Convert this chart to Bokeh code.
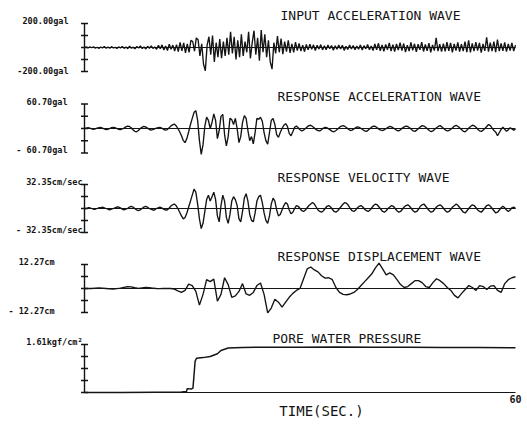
import numpy as np
from bokeh.plotting import figure
from bokeh.models import Range1d, Label
from bokeh.embed import file_html
from bokeh.resources import INLINE

# ---------------- data ----------------
T_END = 60.0

input_acc = [
    0, 3, -4, 5, -2, 6, -5, 2, -7, 4, -3, 8, -6, 3, -5, 7, -4, 2, -8, 5,
    -3, 9, -7, 4, -10, 12, -6, 3, -11, 8, -4, 13, -9, 5, -12, 10, -6, 14, -8, 4,
    -15, 18, -10, 22, -20, 12, -25, 28, -14, 20, -30, 24,
    -35, 42, -28, 38, -45, 30, -40, 60,
    50, -30, 80, 65, -70, 30, -140, -195,
    20, 90, -60, 100, -120, 40, -80, 70,
    -90, 50, -70, 80, -60, 130, -50, 90,
    -100, 60, -80, 110, -70, 50, -40, 130,
    -90, 40, 140, -60, 80, -110, 145, -40,
    110, -80, 60, -120, -180, 40, -50, 95,
    -40, 75, -55, 50, -35, 60, -45, 30,
    -40, 45, -25, 35, -30, 20, -35, 25,
    -20, 28, -15, 22, -25, 18, -12, 24, -20, 15, -18, 20, -10, 16, -22, 14, -15, 20,
    -12, 18, -24, 10, -16, 21, -13, 17, -19, 12, -14, 22, -20, 15, -11, 25, -18, 13,
    -25, 30, -20, 35, -28, 22, -32, 26, -18, 38, -30, 24, -35, 29, -22, 40, -26, 33, -38, 20,
    -30, 42, -24, 31, -36, 27, -20, 45, -33, 25, -28, 36, -40, 22, -26, 80, -30, 28, -35, 33,
    -32, 45, -28, 38, -40, 30, -25, 42, -35, 28, -30, 50, -38, 60, -40, 35, -30, 45, -25, 38,
    -42, 30, -28, 85, -35, 40, -30, 48, -38, 65, -30, 35, -28, 42, -35, 30, -25, 38, -30, 20,
]

resp_acc = [
    0, 1, 2, 1, -1, -2, -1, 1, 2, 3, 1, -1, -3, -2, 0, 2, 3, 2, 0, -2, -3, -1, 1, 4, 6,
    5, 2, -3, -7, -8, -5, 0, 3, 5, 4, 1, -2, -4, -3, -1, 1, 2, 3, 1, -2, -4, -3, 1, 6, 9,
    11, 7, 0, -8, -18, -30, -35, -25, -8, 10,
    25, 40, 44, 20, -30, -64, -40, 5, 28, 20,
    0, 15, 36, 20, -25, -5, 30, 35, -15, -43,
    -20, 25, 22, 10, 25, 0, -35, -20, 15, 32,
    25, -5, -30, -20, -38, -10, 25, 23, 28, 18,
    -10, -30, -39, -10, 20, 25, 10, -15, -22, -10,
    0, 8, 12, 5, -12, -18, -8, 3, 6, 2,
    -3, -6, -4, 0, 4, 7, 8, 5, 1, -3, -5, -6, -3, 1, 3, 2, -1, -4, -7, -8,
    -5, -1, 3, 6, 7, 5, 2, -2, -5, -4, -1, 2, 4, 3, 0, -3, -6, -7, -4, 0,
    4, 6, 5, 2, -2, -4, -5, -3, 0, 3, 5, 4, 1, -2, -5, -6, -3, 1, 4, 6,
    5, 2, -2, -6, -7, -4, 0, 4, 7, 6, 3, -1, -5, -8, -6, -2, 2, 5, 7, 4,
    0, -4, -6, -5, -2, 2, 6, 8, 5, 1, -3, -7, -8, -4, 1, 5, 8, 7, 3, -2,
    -6, -7, -4, 0, 5, 10, 7, 1, -5, -9, -18, -10, -2, 3, -2, -7, -3, 2, -1, -4, -2,
]

resp_vel = [
    0, 0, 1, 1, 0, -1, -1, 0, 1, 1, 2, 1, 0, -1, -2, -1, 0, 1, 2, 2, 1, -1, -2, -1, 0,
    2, 3, 2, 0, -2, -3, -2, 0, 2, 3, 2, 0, -1, -2, -2, 0, 1, 2, 1, -1, -2, -2, 0, 3, 5,
    6, 4, 0, -5, -10, -14, -12, -6, 2, 10,
    18, 26, 22, 6, -14, -27, -20, -4, 12, 18,
    10, 16, 22, 12, -10, -18, 4, 18, 10, -12,
    -20, -8, 10, 16, 12, 4, -14, -18, -4, 14,
    20, 10, -8, -16, -18, -6, 10, 16, 18, 8,
    -6, -16, -20, -10, 6, 14, 10, -2, -10, -8,
    -2, 4, 8, 6, -2, -7, -5, 0, 4, 3,
    0, -3, -4, -2, 1, 4, 6, 8, 6, 2, -2, -4, -5, -3, 0, 3, 4, 2, -1, -4,
    -5, -3, 0, 3, 6, 8, 7, 4, 0, -3, -4, -2, 1, 3, 4, 2, -1, -3, -4, -2,
    1, 4, 6, 5, 2, -1, -4, -5, -3, 0, 2, 4, 3, 0, -3, -5, -4, -1, 2, 4,
    5, 3, 0, -3, -5, -4, -1, 3, 5, 6, 3, 0, -3, -5, -4, -1, 2, 4, 5, 3,
    0, -3, -5, -4, -1, 2, 4, 6, 4, 1, -2, -5, -6, -3, 0, 3, 5, 4, 1, -2,
    -4, -5, -2, 1, 4, 5, 3, 0, -3, -6, -5, -2, 1, 3, 1, -2, -4, -2, 1, 2, 0,
]

resp_disp = [
    0, 0, 0, 0.2, 0.3, 0.2, 0, -0.2, -0.3, -0.1, 0.2, 0.6, 0.9, 0.8, 0.4, 0.1,
    0.3, 0.5, 0.4, 0.2, 0, -0.1, 0, 0.1, 0, -0.3,
    -1.2, -2.0, -1.0, 2.2, 1.5, -1.5, -8.5, -3.0, 4.5, 3.5, 4.8, -6.5, -3.0, 5.5,
    2.0, -4.5, -3.8, -1.5, 2.5, -2.8, -3.5, -2.0, 1.5, 2.8, -3.0, -12.5, -10.0,
    -5.5, -7.0, -9.5, -7.0, -4.5, -2.5, -1.0, 0.0, 5.0, 10.0, 11.0, 9.5, 8.5,
    6.5, 5.3, 5.5, 4.5, 0.5, -2.0, -3.0, -3.2, -2.8, -2.0, -0.5, 1.5, 3.5, 5.5,
    7.5, 10.5, 13.0, 10.0, 7.0, 8.0, 7.0, 4.5, 2.0, 0.5, 1.0, 2.5, 4.0, 4.0,
    3.0, 1.0, 0.5, 3.0, 5.0, 4.0, 2.5, 0.5, -1.0, -3.5, -4.8, -2.5, -0.5, 1.5,
    0.5, -1.0, 1.5, 1.0, -0.5, 1.2, 1.5, -1.0, -2.0, 2.5, 4.5, 5.5, 6.0,
]

pore_t = [0, 5, 10, 13.5, 14.2, 14.3, 14.9, 15.1, 15.4, 15.6, 16.5, 17.5,
          18.5, 19.0, 20.0, 22, 25, 30, 35, 40, 45, 50, 55, 60]
pore_p = [0, 0.0, 0.01, 0.02, 0.03, 0.13, 0.12, 0.15, 1.05, 1.15, 1.17, 1.21,
          1.30, 1.41, 1.49, 1.51, 1.52, 1.52, 1.53, 1.52, 1.52, 1.51, 1.51, 1.50]

titles = ["INPUT ACCELERATION WAVE", "RESPONSE ACCELERATION WAVE",
          "RESPONSE VELOCITY WAVE", "RESPONSE DISPLACEMENT WAVE",
          "PORE WATER PRESSURE"]
amps = [200.0, 60.70, 32.35, 12.27, 1.61]
top_labels = ["200.00gal", "60.70gal", "32.35cm/sec", "12.27cm", "1.61kgf/cm²"]
bottom_labels = ["-200.00gal", "- 60.70gal", "- 32.35cm/sec", "- 12.27cm", None]
x_end_label = "60"
x_title = "TIME(SEC.)"

# ---------------- layout (picture pixels) ----------------
W, H = 524, 422
AX_X, END_X = 84, 515
ZERO_Y = [47, 128, 208, 288, 392]
HALF = [24, 24.5, 24, 24, 48]
TOP_LAB = [(68, 20), (67, 101), (82, 181), (54, 261), (82, 341)]
BOT_LAB = [(68, 70), (67, 149), (82, 229), (54, 310), None]
TITLE_POS = [(280, 15), (277, 96), (277, 177), (277, 256), (272, 338)]
XEND_POS = (515, 398)
XT_POS = (321, 410)

k = (END_X - AX_X) / T_END


def tx(px):
    return (px - AX_X) / k


def vy(i, py):
    return (ZERO_Y[i] - py) * amps[i] / HALF[i]


FONT = "DejaVu Sans Mono"
INK = "#141414"
LAB_SIZE = "8.5px"

p = figure(width=W, height=H,
           x_range=Range1d(tx(0), tx(W)),
           y_range=Range1d(0, 1),
           x_axis_location=None, y_axis_location=None,
           output_backend="svg", toolbar_location=None,
           min_border_left=0, min_border_right=0, min_border_top=0,
           min_border_bottom=0)
p.outline_line_color = None
p.grid.visible = False
p.background_fill_color = "white"

for i in range(5):
    A = amps[i]
    p.extra_y_ranges[f"p{i}"] = Range1d(-(H - ZERO_Y[i]) * A / HALF[i],
                                        ZERO_Y[i] * A / HALF[i])

series = [input_acc, resp_acc, resp_vel, resp_disp]
for i in range(5):
    rn = f"p{i}"
    A = amps[i]
    p.segment(x0=[0], y0=[0], x1=[T_END], y1=[0], y_range_name=rn,
              line_color=INK, line_width=1.2)
    if i < 4:
        vals = series[i]
        t = np.linspace(0, T_END, len(vals))
        p.line(t, vals, y_range_name=rn, line_color=INK, line_width=1.35)
        ticks = [-A, -A / 2, 0, A / 2, A]
        lo = -A
    else:
        p.line(pore_t, pore_p, y_range_name=rn, line_color=INK, line_width=1.5)
        ticks = [0, A / 4, A / 2, 3 * A / 4, A]
        lo = 0
    p.segment(x0=[0], y0=[lo], x1=[0], y1=[A], y_range_name=rn,
              line_color=INK, line_width=1.4)
    p.scatter(x=[0] * len(ticks), y=ticks, marker="dash", size=7,
              y_range_name=rn, line_color=INK, line_width=1.4)
    lx, ly = TOP_LAB[i]
    p.add_layout(Label(x=tx(lx), y=vy(i, ly), text=top_labels[i], y_range_name=rn,
                       text_align="right", text_baseline="middle",
                       text_font=FONT, text_font_size=LAB_SIZE, text_color=INK,
                       text_font_style="bold"))
    if BOT_LAB[i] is not None:
        lx, ly = BOT_LAB[i]
        p.add_layout(Label(x=tx(lx), y=vy(i, ly), text=bottom_labels[i], y_range_name=rn,
                           text_align="right", text_baseline="middle",
                           text_font=FONT, text_font_size=LAB_SIZE, text_color=INK,
                           text_font_style="bold"))
    ttx, tty = TITLE_POS[i]
    p.add_layout(Label(x=tx(ttx), y=vy(i, tty), text=titles[i], y_range_name=rn,
                       text_align="left", text_baseline="middle",
                       text_font=FONT, text_font_size="13px", text_color=INK))

p.add_layout(Label(x=tx(XEND_POS[0]), y=vy(4, XEND_POS[1]), text=x_end_label,
                   y_range_name="p4", text_align="center", text_baseline="middle",
                   text_font=FONT, text_font_size="10px", text_color=INK,
                   text_font_style="bold"))
p.add_layout(Label(x=tx(XT_POS[0]), y=vy(4, XT_POS[1]), text=x_title, y_range_name="p4",
                   text_align="center", text_baseline="middle",
                   text_font=FONT, text_font_size="14px", text_color=INK))

open("out.html", "w").write(file_html(p, INLINE))
